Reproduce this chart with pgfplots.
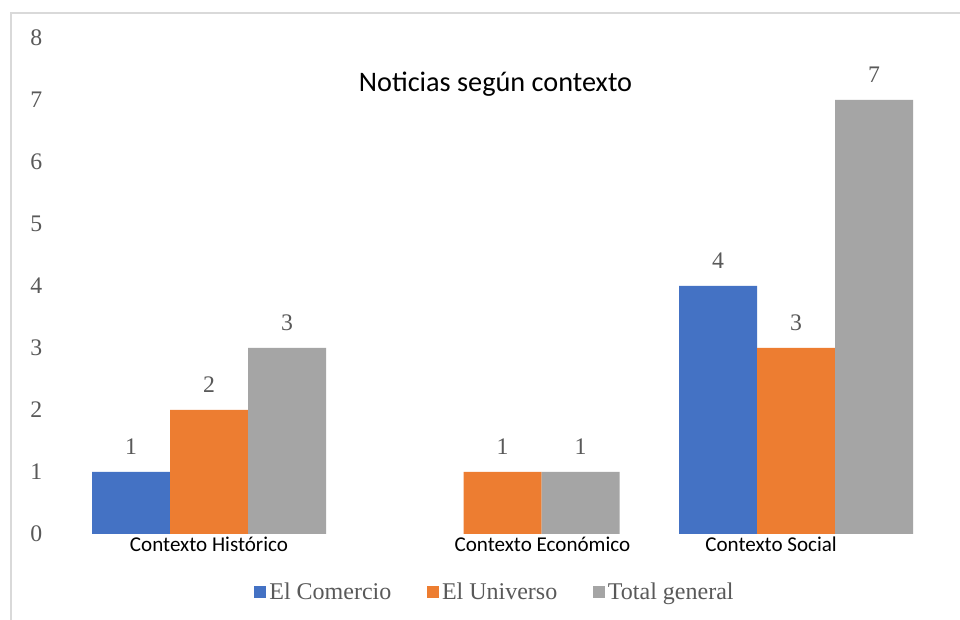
\documentclass[border=0pt]{standalone}
\usepackage{pgfplots}
\pgfplotsset{compat=1.18}
\usepackage{fontspec}
\setmainfont{Liberation Serif}
\newfontfamily\carlito{Carlito}
\definecolor{cblue}{HTML}{4472C4}
\definecolor{corange}{HTML}{ED7D31}
\definecolor{cgrey}{HTML}{A5A5A5}
\definecolor{ctext}{HTML}{595959}
\definecolor{cborder}{HTML}{D9D9D9}
\begin{document}
\begin{tikzpicture}[x=0.75pt,y=0.75pt]
\useasboundingbox (0,0) rectangle (960,620);
\clip (0,0) rectangle (960,620);
\fill[white] (0,0) rectangle (960,620);
\draw[cborder, line width=1.5pt] (11,607) rectangle (990,-20);
\begin{axis}[
  at={(46.69pt,64.5pt)}, anchor=south west,
  scale only axis,
  width=660.4pt, height=372pt,
  xmin=-0.5, xmax=2.5, ymin=0, ymax=8,
  ybar=0pt, bar width=58.5pt,
  axis line style={draw=none},
  tick style={draw=none},
  major tick length=0pt,
  ytick={0,1,...,8},
  xtick={0,1.136,1.915},
  xticklabels={Contexto Histórico, Contexto Económico, Contexto Social},
  xticklabel style={font=\carlito\fontsize{15.8}{18}\selectfont, text=black, anchor=base, yshift=-13.5pt},
  yticklabel style={font=\fontsize{17.8}{20}\selectfont, text=ctext, anchor=center, xshift=-19.5pt},
  /pgf/number format/assume math mode=true,
  nodes near coords,
  every node near coord/.append style={font=\fontsize{17.8}{20}\selectfont, text=ctext, anchor=south, inner sep=0pt, yshift=12.75pt},
  clip=false,
  legend columns=3,
  legend style={at={(0.492,-0.117)}, anchor=center, draw=none, fill=none,
    font=\fontsize{18}{20}\selectfont, text=ctext,
    /tikz/every even column/.append style={column sep=24pt},
    nodes={inner sep=2.5pt}},
  legend image code/.code={\draw[#1,draw=none] (0pt,-4.5pt) rectangle (9pt,4.5pt);},
]
\addplot[fill=cblue, draw=none] coordinates {(0,1) (2,4)};
\addplot[fill=corange, draw=none] coordinates {(0,2) (1,1) (2,3)};
\addplot[fill=cgrey, draw=none] coordinates {(0,3) (1,1) (2,7)};
\legend{El Comercio, El Universo, Total general}
\end{axis}
\node[font=\carlito\fontsize{21.2}{24}\selectfont, anchor=base] at (495.5,528) {Noticias según contexto};
\end{tikzpicture}
\end{document}
